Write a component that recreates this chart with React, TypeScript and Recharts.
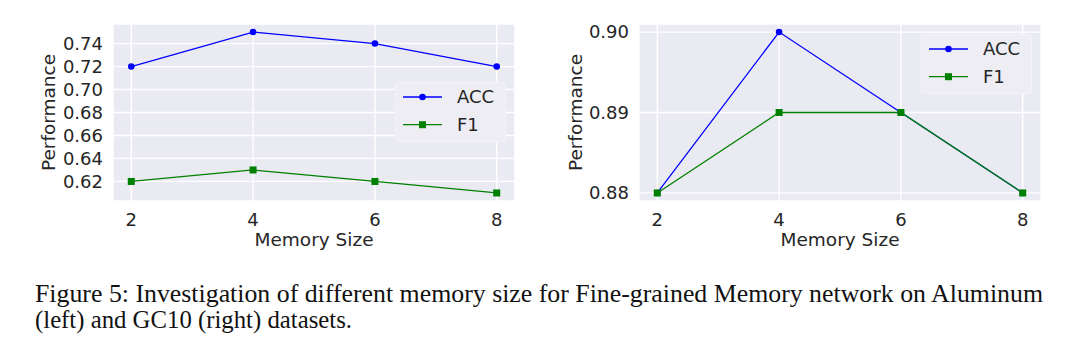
import React from 'react';
import { LineChart, Line, XAxis, YAxis, CartesianGrid, Legend } from 'recharts';

const memorySizes = [2, 4, 6, 8];
const aluminumAcc = [0.72, 0.75, 0.74, 0.72];
const aluminumF1 = [0.62, 0.63, 0.62, 0.61];
const gc10Acc = [0.88, 0.9, 0.89, 0.88];
const gc10F1 = [0.88, 0.89, 0.89, 0.88];
const xTicks = [2, 4, 6, 8];
const leftYTicks = [0.62, 0.64, 0.66, 0.68, 0.7, 0.72, 0.74];
const rightYTicks = [0.88, 0.89, 0.9];
const seriesNames = ['ACC', 'F1'];
const captionLines = [
  'Figure 5: Investigation of different memory size for Fine-grained Memory network on Aluminum',
  '(left) and GC10 (right) datasets.',
];

const leftData = memorySizes.map((m, i) => ({ m, ACC: aluminumAcc[i], F1: aluminumF1[i] }));
const rightData = memorySizes.map((m, i) => ({ m, ACC: gc10Acc[i], F1: gc10F1[i] }));

const FONT = 'DejaVu Sans, sans-serif';
const SERIF = "'Liberation Serif', 'Times New Roman', serif";
const TEXT = '#262626';
const BLUE = '#0000ff';
const GREEN = '#008000';
const BG = '#EAEAF2';

const SquareDot = (props: any) => {
  const { cx, cy, index } = props;
  if (cx == null || cy == null) return <g key={index} />;
  return <rect key={index} x={cx - 3.5} y={cy - 3.5} width={7} height={7} fill={GREEN} />;
};

const makeLegend = () => (props: any) => {
  const payload = props.payload || [];
  const colors: Record<string, string> = { ACC: BLUE, F1: GREEN };
  const names = payload.length ? payload.map((p: any) => p.value) : seriesNames;
  return (
    <svg width={111} height={60} style={{ display: 'block' }}>
      <rect x={0.5} y={0.5} width={110} height={59} rx={4} fill="#EDEDF3" stroke="#F3F3F8" strokeWidth={1} />
      {names.map((n: string, i: number) => {
        const y = 15 + i * 27.7;
        const c = colors[n] || BLUE;
        return (
          <g key={n}>
            <line x1={8} x2={47} y1={y} y2={y} stroke={c} strokeWidth={1.3} />
            {n === 'F1' ? (
              <rect x={27.5 - 3.5} y={y - 3.5} width={7} height={7} fill={c} />
            ) : (
              <circle cx={27.5} cy={y} r={3.3} fill={c} />
            )}
            <text x={62} y={y} dy="0.36em" fontFamily={FONT} fontSize={18} fill={TEXT}>
              {n}
            </text>
          </g>
        );
      })}
    </svg>
  );
};

const yLabel = (baseX: number) => (props: any) => {
  const vb = props.viewBox || {};
  const x = (vb.x ?? 0) + baseX;
  const cy = (vb.y ?? 24) + (vb.height ?? 177) / 2;
  return (
    <text
      x={x}
      y={cy}
      transform={`rotate(-90, ${x}, ${cy})`}
      textAnchor="middle"
      fontFamily={FONT}
      fontSize={18.5}
      fill={TEXT}
    >
      Performance
    </text>
  );
};

const tickStyle = { fontFamily: FONT, fontSize: 18, fill: TEXT };

function Panel(props: {
  data: any[];
  yDomain: [number, number];
  yTicks: number[];
  yAxisWidth: number;
  marginRight: number;
  labelX: number;
  legendLeft: number;
  legendTop: number;
}) {
  const { data, yDomain, yTicks, yAxisWidth, marginRight, labelX, legendLeft, legendTop } = props;
  return (
    <LineChart
      width={540}
      height={260}
      data={data}
      margin={{ top: 24, right: marginRight, bottom: 9, left: 0 }}
    >
      <CartesianGrid fill={BG} stroke="#ffffff" strokeWidth={1.3} />
      <XAxis
        dataKey="m"
        type="number"
        domain={[1.7, 8.3]}
        ticks={xTicks}
        interval={0}
        axisLine={false}
        tickLine={false}
        tickSize={0}
        tickMargin={12}
        height={50}
        tick={tickStyle}
        label={{
          value: 'Memory Size',
          position: 'insideBottom',
          offset: 5.5,
          fontFamily: FONT,
          fontSize: 18.5,
          fill: TEXT,
        }}
      />
      <YAxis
        type="number"
        domain={yDomain}
        ticks={yTicks}
        interval={0}
        allowDataOverflow
        width={yAxisWidth}
        axisLine={false}
        tickLine={false}
        tickSize={0}
        tickMargin={10}
        tick={tickStyle}
        tickFormatter={(v: number) => v.toFixed(2)}
        label={{ content: yLabel(labelX) }}
      />
      <Legend
        layout="vertical"
        align="center"
        verticalAlign="middle"
        content={makeLegend()}
        wrapperStyle={{ position: 'absolute', left: legendLeft, top: legendTop, width: 111, height: 60 }}
      />
      <Line
        type="linear"
        dataKey="ACC"
        name="ACC"
        stroke={BLUE}
        strokeWidth={1.3}
        dot={{ r: 3.3, fill: BLUE, stroke: BLUE, strokeWidth: 0 }}
        activeDot={false}
        isAnimationActive={false}
      />
      <Line
        type="linear"
        dataKey="F1"
        name="F1"
        stroke={GREEN}
        strokeWidth={1.3}
        dot={SquareDot}
        activeDot={false}
        isAnimationActive={false}
      />
    </LineChart>
  );
}

export default function App() {
  return (
    <div
      style={{
        position: 'absolute',
        left: 0,
        top: 0,
        width: 1080,
        height: 351,
        background: '#ffffff',
        overflow: 'hidden',
      }}
    >
      <div style={{ position: 'absolute', left: 0, top: 0 }}>
        <Panel
          data={leftData}
          yDomain={[0.603, 0.757]}
          yTicks={leftYTicks}
          yAxisWidth={113}
          marginRight={25}
          labelX={55.4}
          legendLeft={395}
          legendTop={82}
        />
      </div>
      <div style={{ position: 'absolute', left: 540, top: 0 }}>
        <Panel
          data={rightData}
          yDomain={[0.879, 0.901]}
          yTicks={rightYTicks}
          yAxisWidth={99}
          marginRight={39}
          labelX={41.5}
          legendLeft={381}
          legendTop={34}
        />
      </div>
      <svg
        width={1080}
        height={351}
        style={{ position: 'absolute', left: 0, top: 0, pointerEvents: 'none' }}
      >
        <text
          x={35}
          y={302}
          style={{ fontFamily: SERIF, fontSize: 25 }}
          fill="#111"
          textLength={1008}
          lengthAdjust="spacingAndGlyphs"
        >
          {captionLines[0]}
        </text>
        <text
          x={35}
          y={328}
          style={{ fontFamily: SERIF, fontSize: 25 }}
          fill="#111"
          textLength={317}
          lengthAdjust="spacingAndGlyphs"
        >
          {captionLines[1]}
        </text>
      </svg>
    </div>
  );
}
